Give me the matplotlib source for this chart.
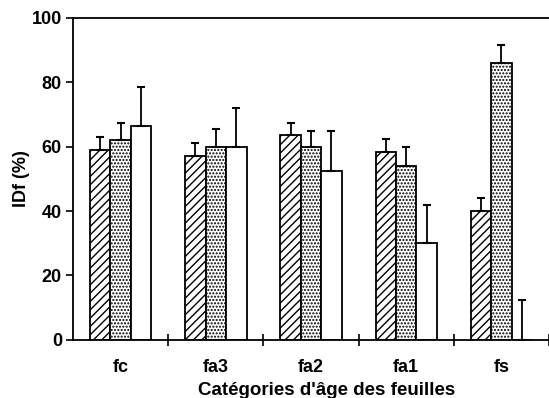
import numpy as np
import matplotlib
matplotlib.use("Agg")
import matplotlib.pyplot as plt

plt.rcParams['font.family'] = ['Liberation Sans', 'DejaVu Sans']
plt.rcParams['hatch.linewidth'] = 1.0

categories = ['fc', 'fa3', 'fa2', 'fa1', 'fs']
serie_a = [59, 57, 63.5, 58.5, 40]
serie_a_err = [4, 4, 4, 4, 4]
serie_b = [62, 60, 60, 54, 86]
serie_b_err = [5.5, 5.5, 5, 6, 5.5]
serie_c = [66.5, 60, 52.5, 30, 0]
serie_c_err = [12, 12, 12.5, 12, 12.5]

fig = plt.figure(figsize=(5.49, 3.98), dpi=100)
ax = fig.add_axes([0.133, 0.146, 0.867, 0.809])

x = np.arange(len(categories))
w = 0.215
bars = [(serie_a, serie_a_err, '////'), (serie_b, serie_b_err, '.....'), (serie_c, serie_c_err, '')]
for i, (vals, errs, hatch) in enumerate(bars):
    pos = x + (i - 1) * w
    ax.bar(pos, vals, width=w, color='white', edgecolor='black', linewidth=1.3, hatch=hatch, zorder=2)
    ax.errorbar(pos, vals, yerr=[np.zeros(len(vals)), errs], fmt='none', ecolor='black',
                elinewidth=1.3, capsize=3, capthick=1.5, zorder=3)

ax.set_xlim(-0.5, 4.4)
ax.set_ylim(0, 100)
ax.set_yticks(range(0, 101, 20))
ax.set_xticks(x + 0.5)
ax.set_xticks(x, minor=True)
ax.set_xticklabels([])
ax.set_xticklabels(categories, minor=True)
ax.tick_params(axis='x', which='major', direction='inout', length=8, width=1.2)
ax.tick_params(axis='x', which='minor', length=0, pad=14, labelsize=13)
ax.tick_params(axis='y', direction='out', length=5, width=1.2, labelsize=13, pad=3)
for lab in ax.get_xticklabels(minor=True) + ax.get_yticklabels():
    lab.set_fontweight('bold')

ax.spines['right'].set_visible(False)
for s in ['left', 'bottom', 'top']:
    ax.spines[s].set_linewidth(1.3)

ax.set_ylabel('IDf (%)', fontsize=13, fontweight='bold', labelpad=1)
ax.set_xlabel("Catégories d'âge des feuilles", fontsize=13.5, fontweight='bold', labelpad=4)
ax.xaxis.label.set_x(0.532)

fig.savefig('out.png', dpi=100)
